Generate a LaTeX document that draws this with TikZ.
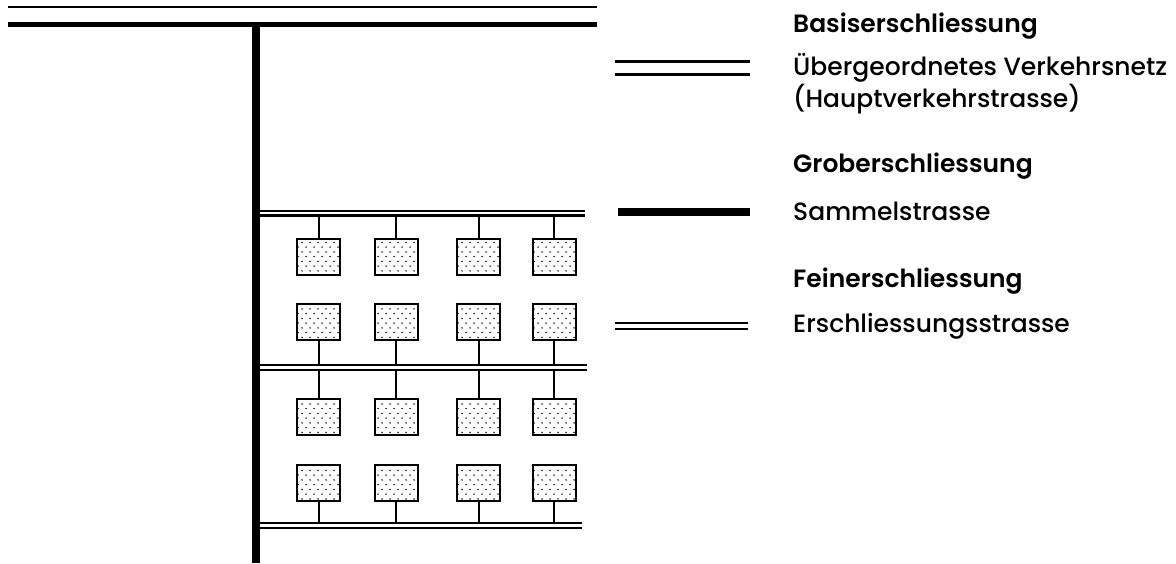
\documentclass[tikz,border=0pt]{standalone}
\usepackage{fontspec}
\setmainfont{Poppins}[UprightFont=* Medium,BoldFont=* SemiBold]
\usetikzlibrary{patterns}
\pgfdeclarepatternformonly{plotdots}{\pgfqpoint{-1pt}{-1pt}}{\pgfqpoint{9pt}{10.5pt}}{\pgfqpoint{8pt}{9.5pt}}{%
  \pgfpathcircle{\pgfqpoint{2pt}{2.4pt}}{0.85pt}%
  \pgfpathcircle{\pgfqpoint{6pt}{7.1pt}}{0.85pt}%
  \pgfusepath{fill}}
\newcommand{\legendfont}{\fontsize{25}{32}\selectfont}

\begin{document}
\begin{tikzpicture}[x=1pt,y=-1pt]
        \tikzstyle{every node}=[font=\legendfont]
        \tikzstyle{plot}=[draw,line width=2pt,minimum width=43pt,minimum height=36pt,inner sep=0pt,pattern=plotdots]
        \tikzstyle{link}=[line width=2pt]
        \tikzstyle{street}=[line width=2.3pt]
        \tikzstyle{legend}=[anchor=base west,inner sep=0pt]
        \tikzstyle{heading}=[legend,font=\legendfont\bfseries]
        \useasboundingbox (0,0) rectangle (1176,563);

        % Hauptverkehrsstrasse
        \draw[line width=2.4pt] (8,7) -- (597,7);
        \draw[line width=4.5pt] (8,24.5) -- (597,24.5);
        % Sammelstrasse
        \draw[line width=8pt] (255.5,22) -- (255.5,563);
        % Erschliessungsstrassen
        \foreach \ya/\yb/\xe [count=\i] in {211.2/215.5/585, 365.2/369.8/587, 523.2/528.2/582} {
            \draw[street] (259,\ya) -- (\xe,\ya) (259,\yb) -- (\xe,\yb);
            \coordinate (e\i a) at (0,\ya);
            \coordinate (e\i b) at (0,\yb);
        }
        % Parzellen
        \foreach \x [count=\c] in {318.5,396,478.5,554} {
            \node[plot] (p1\c) at (\x,256.5) {};
            \node[plot] (p2\c) at (\x,321.5) {};
            \node[plot] (p3\c) at (\x,417) {};
            \node[plot] (p4\c) at (\x,483) {};
            \draw[link] (p1\c) -- (p1\c |- e1b);
            \draw[link] (p2\c) -- (p2\c |- e2a);
            \draw[link] (p3\c) -- (p3\c |- e2b);
            \draw[link] (p4\c) -- (p4\c |- e3a);
        }

        % Legende
        \node[heading] (basis) at (793,32) {Basiserschliessung};
        \node[legend] (ueber) at (793,75) {Übergeordnetes Verkehrsnetz};
        \node[legend] (haupt) at (793,107) {(Hauptverkehrstrasse)};
        \node[heading] (grob) at (793,172) {Groberschliessung};
        \node[legend] (sammel) at (793,220) {Sammelstrasse};
        \node[heading] (fein) at (793,287) {Feinerschliessung};
        \node[legend] (ersch) at (793,332) {Erschliessungsstrasse};

        \draw[line width=3pt] (615,61.7) -- (750,61.7) (615,74.3) -- (750,74.3);
        \draw[line width=8pt] (618,212) -- (750,212);
        \draw[street] (615,322.8) -- (748,322.8) (615,328.7) -- (748,328.7);
\end{tikzpicture}
\end{document}
